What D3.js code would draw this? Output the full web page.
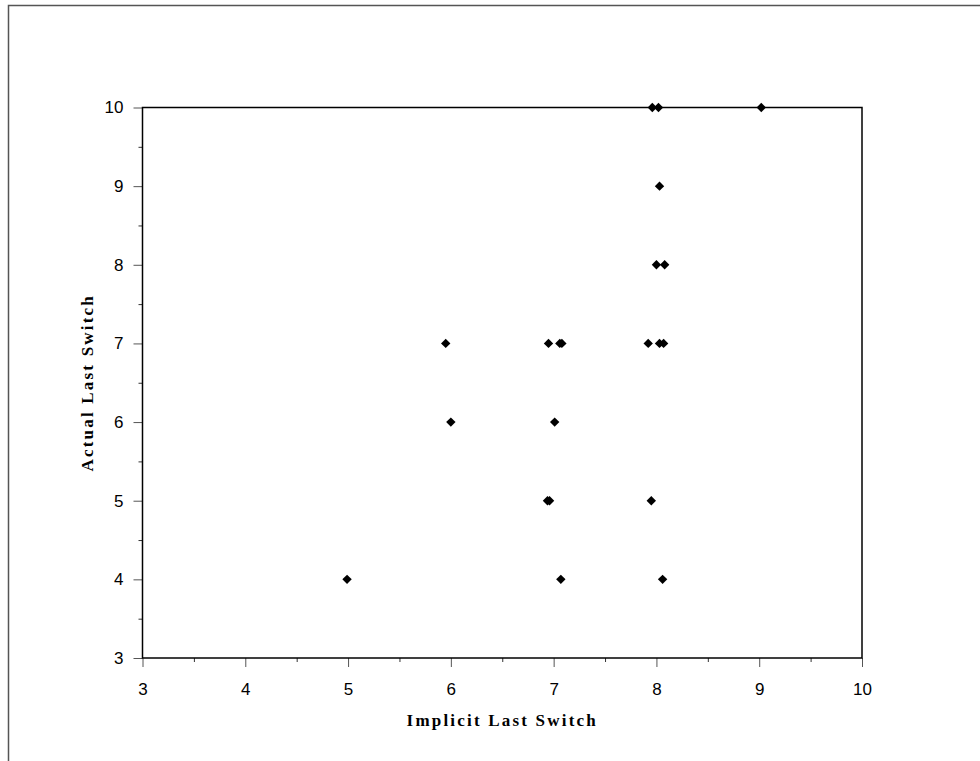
<!DOCTYPE html>
<html>
<head>
<meta charset="utf-8">
<script src="https://cdn.jsdelivr.net/npm/d3@7"></script>
<style>
  body { margin: 0; background: #fff; }
  svg { display: block; }
</style>
</head>
<body>
<svg id="chart" width="980" height="761"></svg>
<script>
// values
const implicitLast = [4.99, 5.95, 6.0, 6.95, 7.06, 7.08, 7.01, 6.94, 6.96, 7.07,
  7.92, 8.03, 8.07, 7.95, 8.06, 8.0, 8.08, 8.03, 7.96, 8.02, 9.02];
const actualLast = [4, 7, 6, 7, 7, 7, 6, 5, 5, 4,
  7, 7, 7, 5, 4, 8, 8, 9, 10, 10, 10];
const xTicks = [3, 4, 5, 6, 7, 8, 9, 10];
const yTicks = [3, 4, 5, 6, 7, 8, 9, 10];
const xMinor = [3.5, 4.5, 5.5, 6.5, 7.5, 8.5, 9.5];
const yMinor = [3.5, 4.5, 5.5, 6.5, 7.5, 8.5, 9.5];

const svg = d3.select('#chart');
const plotLeft = 142.5, plotRight = 862, plotTop = 107.5, plotBottom = 658;

const x = d3.scaleLinear().domain([3, 10]).range([plotLeft, plotRight]);
const y = d3.scaleLinear().domain([3, 10]).range([plotBottom, plotTop]);

// outer frame (only top and left show)
svg.append('path')
  .attr('d', 'M8.5,761 L8.5,5.5 L980,5.5')
  .attr('fill', 'none')
  .attr('stroke', '#555')
  .attr('stroke-width', 1.5);

// minor ticks
svg.append('g')
  .attr('transform', `translate(0,${plotBottom})`)
  .call(d3.axisBottom(x).tickValues(xMinor).tickSize(4).tickFormat(''))
  .call((g) => g.select('.domain').remove())
  .selectAll('line').attr('stroke', '#333');

svg.append('g')
  .attr('transform', `translate(${plotLeft},0)`)
  .call(d3.axisLeft(y).tickValues(yMinor).tickSize(4).tickFormat(''))
  .call((g) => g.select('.domain').remove())
  .selectAll('line').attr('stroke', '#333');

// major ticks and labels
const xAxis = svg.append('g')
  .attr('transform', `translate(0,${plotBottom})`)
  .call(d3.axisBottom(x).tickValues(xTicks).tickSize(9).tickPadding(16).tickFormat(d3.format('d')));
xAxis.select('.domain').remove();
xAxis.selectAll('line').attr('stroke', '#555');
xAxis.selectAll('text')
  .attr('font-family', '"Liberation Sans", Arial, sans-serif')
  .attr('font-size', 17)
  .attr('fill', '#000');

const yAxis = svg.append('g')
  .attr('transform', `translate(${plotLeft},0)`)
  .call(d3.axisLeft(y).tickValues(yTicks).tickSize(9).tickPadding(10).tickFormat(d3.format('d')));
yAxis.select('.domain').remove();
yAxis.selectAll('line').attr('stroke', '#555');
yAxis.selectAll('text')
  .attr('font-family', '"Liberation Sans", Arial, sans-serif')
  .attr('font-size', 17)
  .attr('fill', '#000');

// plot box
svg.append('rect')
  .attr('x', plotLeft)
  .attr('y', plotTop)
  .attr('width', plotRight - plotLeft)
  .attr('height', plotBottom - plotTop)
  .attr('fill', 'none')
  .attr('stroke', '#000')
  .attr('stroke-width', 1.5);

// points
const points = implicitLast.map((v, i) => ({ x: v, y: actualLast[i] }));
const diamond = d3.symbol().type(d3.symbolSquare).size(44);
svg.append('g')
  .selectAll('path')
  .data(points)
  .enter()
  .append('path')
  .attr('d', diamond)
  .attr('transform', (d) => `translate(${x(d.x)},${y(d.y)}) rotate(45)`)
  .attr('fill', '#000');

// axis titles
svg.append('text')
  .attr('x', (plotLeft + plotRight) / 2)
  .attr('y', 726)
  .attr('text-anchor', 'middle')
  .attr('font-family', '"Liberation Serif", "Times New Roman", serif')
  .attr('font-weight', 'bold')
  .attr('font-size', 17)
  .attr('letter-spacing', 2.2)
  .text('Implicit Last Switch');

svg.append('text')
  .attr('transform', `translate(93,${(plotTop + plotBottom) / 2}) rotate(-90)`)
  .attr('text-anchor', 'middle')
  .attr('font-family', '"Liberation Serif", "Times New Roman", serif')
  .attr('font-weight', 'bold')
  .attr('font-size', 17)
  .attr('letter-spacing', 2.2)
  .text('Actual Last Switch');
</script>
</body>
</html>
